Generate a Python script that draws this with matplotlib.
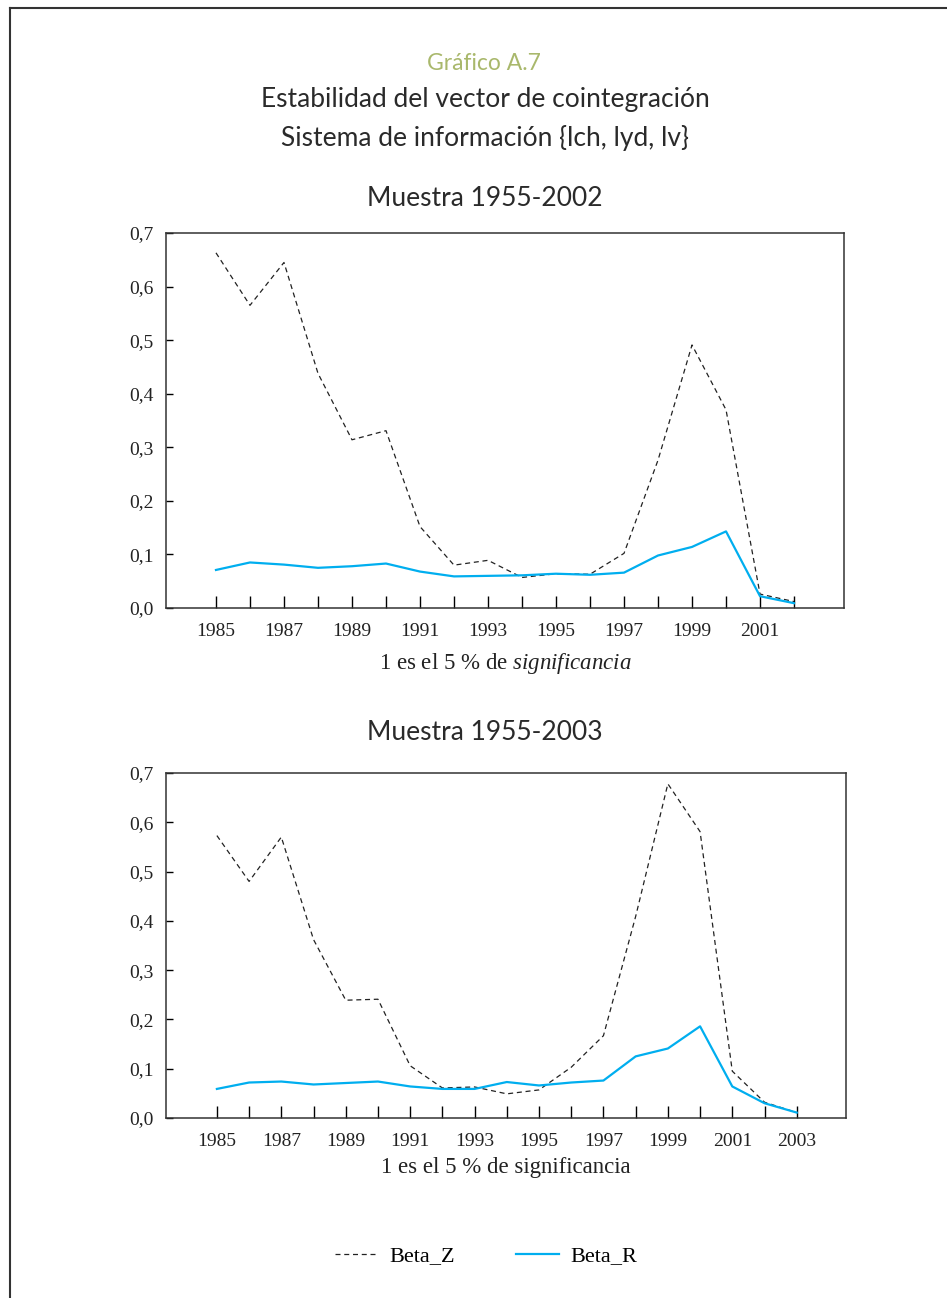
import matplotlib
matplotlib.use("Agg")
import matplotlib.pyplot as plt
from matplotlib.lines import Line2D
from matplotlib.ticker import FuncFormatter

# data
years_a = list(range(1985, 2003))
beta_z_a = [0.663, 0.565, 0.645, 0.438, 0.314, 0.331, 0.152, 0.080, 0.089, 0.057,
            0.064, 0.063, 0.102, 0.276, 0.491, 0.370, 0.026, 0.012]
beta_r_a = [0.071, 0.085, 0.081, 0.075, 0.078, 0.083, 0.068, 0.059, 0.060, 0.061,
            0.064, 0.062, 0.066, 0.098, 0.114, 0.143, 0.022, 0.009]

years_b = list(range(1985, 2004))
beta_z_b = [0.573, 0.480, 0.570, 0.362, 0.239, 0.241, 0.106, 0.061, 0.063, 0.049,
            0.057, 0.103, 0.167, 0.409, 0.678, 0.581, 0.095, 0.032, 0.011]
beta_r_b = [0.059, 0.072, 0.074, 0.068, 0.071, 0.074, 0.064, 0.059, 0.059, 0.073,
            0.066, 0.072, 0.076, 0.125, 0.141, 0.186, 0.064, 0.030, 0.011]

yticks = [0.0, 0.1, 0.2, 0.3, 0.4, 0.5, 0.6, 0.7]

W, H = 947, 1298
HEAD_FAM = ["Lato", "DejaVu Sans"]
SERIF = ["Liberation Serif", "DejaVu Serif"]
INK = "#222222"
BLUE = "#00aeef"
DASH = (0, (4, 3))

plt.rcParams["mathtext.fontset"] = "custom"
plt.rcParams["mathtext.rm"] = "Liberation Serif"
plt.rcParams["mathtext.it"] = "Liberation Serif:italic"

fig = plt.figure(figsize=(W / 100, H / 100), dpi=100)
fig.patch.set_facecolor("white")


def px_axes(left, top, right, bottom):
    return fig.add_axes([left / W, 1 - bottom / H, (right - left) / W, (bottom - top) / H])


def setup(ax, years, xlim):
    ax.set_xlim(*xlim)
    ax.set_ylim(0, 0.7)
    ax.set_yticks(yticks)
    ax.yaxis.set_major_formatter(FuncFormatter(lambda v, p: f"{v:.1f}".replace(".", ",")))
    ax.set_xticks(years)
    ax.set_xticklabels([str(y) if y % 2 == 1 else "" for y in years])
    ax.tick_params(axis="x", direction="in", length=9, width=1, pad=11, labelsize=14)
    ax.tick_params(axis="y", direction="in", length=5, width=1, pad=9, labelsize=14)
    for lab in ax.get_xticklabels() + ax.get_yticklabels():
        lab.set_family(SERIF)
        lab.set_color(INK)
    for s in ax.spines.values():
        s.set_linewidth(1.1)
        s.set_color("#333333")


# top panel
ax1 = px_axes(166, 233, 844, 608)
ax1.plot(years_a, beta_z_a, color=INK, lw=0.9, linestyle=DASH)
ax1.plot(years_a, beta_r_a, color=BLUE, lw=1.6)
setup(ax1, years_a, (1983.53, 2003.47))

# bottom panel
ax2 = px_axes(166, 773, 846, 1118)
ax2.plot(years_b, beta_z_b, color=INK, lw=0.9, linestyle=DASH)
ax2.plot(years_b, beta_r_b, color=BLUE, lw=1.6)
setup(ax2, years_b, (1983.42, 2004.53))

# headings
fig.text(484 / W, 1 - 64 / H, "Gráfico A.7", ha="center", va="center", fontsize=16.5,
         family=HEAD_FAM, color="#a9b86c")
for y, s in [(100, "Estabilidad del vector de cointegración"),
             (138, "Sistema de información {lch, lyd, lv}"),
             (198, "Muestra 1955-2002"),
             (733, "Muestra 1955-2003")]:
    fig.text(485 / W, 1 - y / H, s, ha="center", va="center", fontsize=19,
             family=HEAD_FAM, color="#2a2a2a")

# x labels
fig.text(505 / W, 1 - 663 / H, "1 es el 5 % de $\\it{significancia}$", ha="center",
         va="center", fontsize=16.5, family=SERIF, color=INK)
fig.text(506 / W, 1 - 1167 / H, "1 es el 5 % de significancia", ha="center", va="center",
         fontsize=16.5, family=SERIF, color=INK)

# legend
handles = [Line2D([], [], color=INK, lw=0.9, linestyle=DASH),
           Line2D([], [], color=BLUE, lw=1.6)]
fig.legend(handles, ["Beta_Z", "Beta_R"], loc="center", ncol=2,
           bbox_to_anchor=(486 / W, 1 - 1256 / H), frameon=False,
           handlelength=1.95, handletextpad=0.5, columnspacing=2.75,
           prop=dict(family=SERIF, size=16))

# page frame (top and left edges)
fig.add_artist(Line2D([10 / W, 1], [1 - 8 / H, 1 - 8 / H], color="#333333", lw=1.5))
fig.add_artist(Line2D([10 / W, 10 / W], [0, 1 - 8 / H], color="#333333", lw=1.5))

fig.savefig("out.png", dpi=100)
